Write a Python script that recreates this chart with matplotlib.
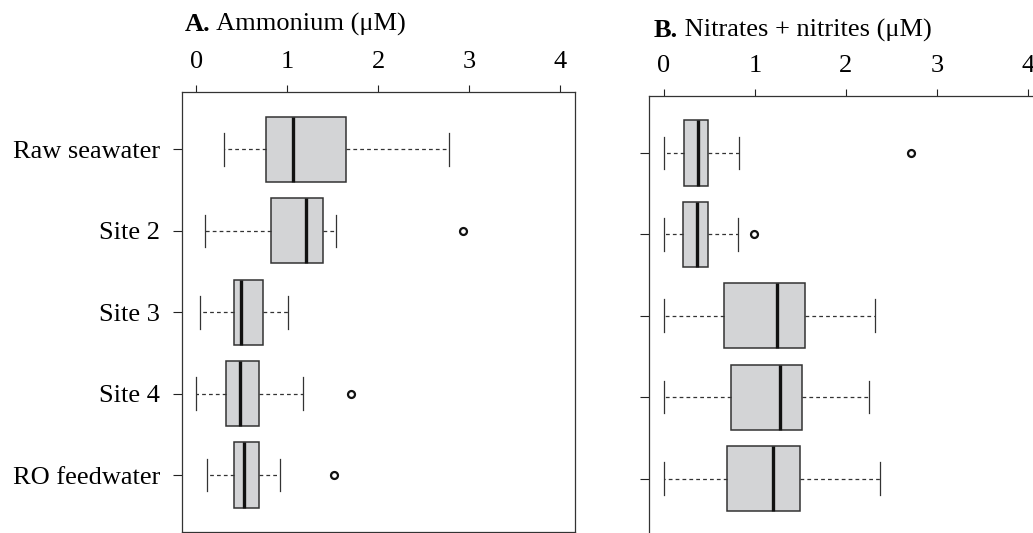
import matplotlib
matplotlib.use('Agg')
import matplotlib.pyplot as plt

plt.rcParams['font.family'] = ['Liberation Serif', 'DejaVu Serif']

sites = ['Raw seawater', 'Site 2', 'Site 3', 'Site 4', 'RO feedwater']
x_ticks = [0, 1, 2, 3, 4]

# ammonium, uM: five-number summaries per site + outliers
nh4_whislo = [0.31, 0.10, 0.04, 0.00, 0.12]
nh4_q1     = [0.77, 0.82, 0.41, 0.33, 0.41]
nh4_med    = [1.06, 1.20, 0.49, 0.48, 0.52]
nh4_q3     = [1.64, 1.39, 0.73, 0.69, 0.69]
nh4_whishi = [2.78, 1.54, 1.01, 1.17, 0.92]
nh4_fliers = [[], [2.93], [], [1.70], [1.51]]

# nitrates + nitrites, uM
nox_whislo = [0.00, 0.00, 0.00, 0.00, 0.00]
nox_q1     = [0.22, 0.21, 0.66, 0.74, 0.69]
nox_med    = [0.37, 0.36, 1.24, 1.28, 1.20]
nox_q3     = [0.48, 0.48, 1.55, 1.52, 1.50]
nox_whishi = [0.82, 0.81, 2.32, 2.25, 2.37]
nox_fliers = [[2.71], [0.99], [], [], []]


def make_stats(lo, q1, med, q3, hi, fl):
    out = []
    for i in range(len(sites)):
        out.append(dict(label=sites[i], whislo=lo[i], q1=q1[i], med=med[i],
                        q3=q3[i], whishi=hi[i], fliers=fl[i]))
    return out


def draw_panel(ax, stats, show_labels):
    edge = '#333333'
    ax.bxp(stats, positions=range(1, len(stats) + 1), orientation='horizontal',
           widths=0.8, capwidths=0.4, patch_artist=True, showfliers=True,
           boxprops=dict(facecolor='#d3d4d6', edgecolor=edge, linewidth=1.1),
           medianprops=dict(color='#111111', linewidth=2.4, solid_capstyle='butt'),
           whiskerprops=dict(color=edge, linewidth=0.9, linestyle=(0, (3, 2.5))),
           capprops=dict(color=edge, linewidth=0.9),
           flierprops=dict(marker='o', markersize=5, markerfacecolor='none',
                           markeredgecolor='#111111', markeredgewidth=1.6))
    ax.set_xlim(-0.16, 4.16)
    ax.set_ylim(5.7, 0.3)
    ax.set_xticks(x_ticks)
    ax.xaxis.tick_top()
    ax.tick_params(axis='x', length=5.4, width=0.8, pad=8.5, labelsize=19, colors='#222222',
                   labelcolor='black')
    ax.set_yticks(range(1, len(sites) + 1))
    if show_labels:
        ax.set_yticklabels(sites)
    else:
        ax.set_yticklabels([])
    ax.tick_params(axis='y', length=6.3, width=0.8, pad=9.4, labelsize=19, colors='#222222',
                   labelcolor='black')
    for s in ax.spines.values():
        s.set_color('#333333')
        s.set_linewidth(0.9)


fig = plt.figure(figsize=(10.33, 5.33), dpi=100)
ax_a = fig.add_axes([0.1759, 0.0019, 0.3807, 0.8246])
ax_b = fig.add_axes([0.6286, -0.0047, 0.3807, 0.8246])

draw_panel(ax_a, make_stats(nh4_whislo, nh4_q1, nh4_med, nh4_q3, nh4_whishi, nh4_fliers), True)
draw_panel(ax_b, make_stats(nox_whislo, nox_q1, nox_med, nox_q3, nox_whishi, nox_fliers), False)

# panel titles: bold letter followed by regular text
renderer = fig.canvas.get_renderer()
for letter, rest, x, y in [('A.', ' Ammonium (μM)', 185 / 1033, 502.3 / 533),
                           ('B.', ' Nitrates + nitrites (μM)', 654 / 1033, 496.3 / 533)]:
    t = fig.text(x, y, letter, fontsize=19, fontweight='bold', va='baseline', ha='left')
    bb = t.get_window_extent(renderer=renderer)
    fig.text(bb.x1 / fig.bbox.width, y, rest, fontsize=19, va='baseline', ha='left')

fig.savefig('out.png', dpi=100)
